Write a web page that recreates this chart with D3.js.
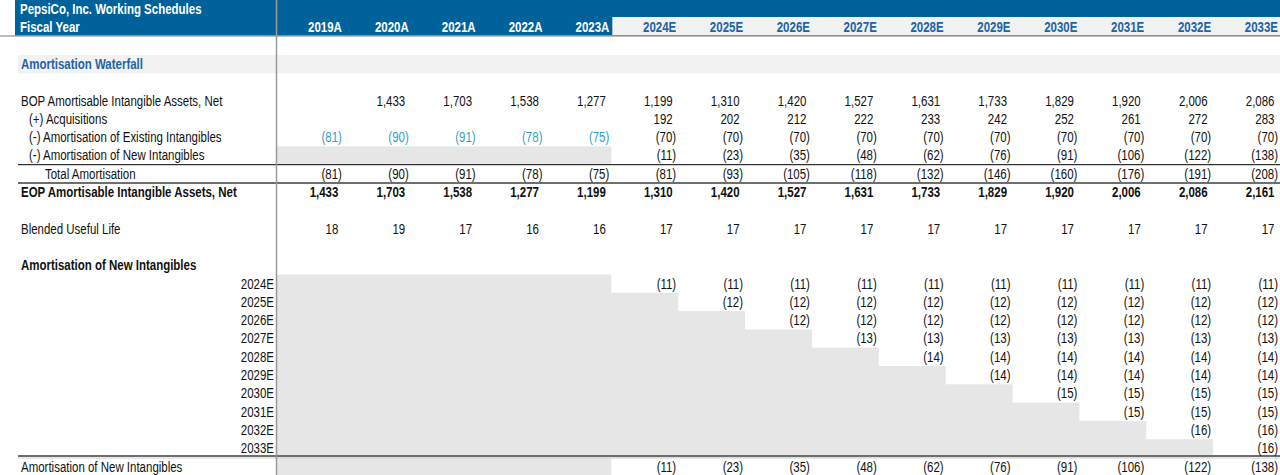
<!DOCTYPE html>
<html>
<head>
<meta charset="utf-8">
<script src="https://cdn.jsdelivr.net/npm/d3@7"></script>
<style>
  html, body { margin: 0; padding: 0; background: #fff; }
  svg { display: block; }
  text { font-family: 'Liberation Sans', Arial, sans-serif; font-size: 14px; fill: #111; }
  .bold { font-weight: bold; }
  .hdr { fill: #fff; font-weight: bold; }
  .hdr-e { fill: #1b64a8; font-weight: bold; }
  .section { fill: #1f64a6; font-weight: bold; }
  .hist { fill: #2f9fc6; }
</style>
</head>
<body>
<svg id="chart"></svg>
<script>
// Amortisation waterfall schedule, drawn as a spreadsheet-style table.
const WIDTH = 1280;
const HEIGHT = 475;
const ROW_H = 18.3;
const LABEL_X = 21;
const GRID_X = 277; // first numeric column starts here
const SX = 0.82; // horizontal squeeze so Liberation Sans reads like Arial Narrow

const YEARS_A = ['2019A', '2020A', '2021A', '2022A', '2023A'];
const YEARS_E = ['2024E', '2025E', '2026E', '2027E', '2028E', '2029E', '2030E', '2031E', '2032E', '2033E'];
const YEARS = [...YEARS_A, ...YEARS_E];

const BOP = [null, 1433, 1703, 1538, 1277, 1199, 1310, 1420, 1527, 1631, 1733, 1829, 1920, 2006, 2086];
const ACQUISITIONS = [null, null, null, null, null, 192, 202, 212, 222, 233, 242, 252, 261, 272, 283];
const AMORT_EXISTING = [-81, -90, -91, -78, -75, -70, -70, -70, -70, -70, -70, -70, -70, -70, -70];
const AMORT_NEW = [null, null, null, null, null, -11, -23, -35, -48, -62, -76, -91, -106, -122, -138];
const TOTAL_AMORT = [-81, -90, -91, -78, -75, -81, -93, -105, -118, -132, -146, -160, -176, -191, -208];
const EOP = [1433, 1703, 1538, 1277, 1199, 1310, 1420, 1527, 1631, 1733, 1829, 1920, 2006, 2086, 2161];
const USEFUL_LIFE = [18, 19, 17, 16, 16, 17, 17, 17, 17, 17, 17, 17, 17, 17, 17];

// Amortisation of each acquisition vintage, from its own year onward.
const VINTAGES = YEARS_E;
const NEW_AMORT_BY_VINTAGE = [
  [-11, -11, -11, -11, -11, -11, -11, -11, -11, -11],
  [-12, -12, -12, -12, -12, -12, -12, -12, -12],
  [-12, -12, -12, -12, -12, -12, -12, -12],
  [-13, -13, -13, -13, -13, -13, -13],
  [-14, -14, -14, -14, -14, -14],
  [-14, -14, -14, -14, -14],
  [-15, -15, -15, -15],
  [-15, -15, -15],
  [-16, -16],
  [-16],
];

const svg = d3.select('#chart').attr('width', WIDTH).attr('height', HEIGHT);

const x = d3.scaleBand().domain(YEARS).range([GRID_X, WIDTH]);
const y = d3.scaleBand().domain(d3.range(26)).range([0, 26 * ROW_H]);
const cy = (r) => y(r) + ROW_H / 2;
const colEnd = (yr) => x(yr) + x.bandwidth();
const nx = (px) => px / SX; // screen x -> x inside the squeezed text group

const fmtNum = d3.format(',');
const fmt = (v) => (v < 0 ? `(${fmtNum(-v)})` : fmtNum(v));
// negatives end at the cell edge, positives leave room for the ")"
const valX = (yr, v) => colEnd(yr) - (v < 0 ? 2 : 5.5);

// ---- fills ----
svg.append('rect').attr('width', WIDTH).attr('height', HEIGHT).attr('fill', '#fff');

// header band
svg.append('rect').attr('x', 15).attr('y', 0).attr('width', WIDTH - 15).attr('height', 36).attr('fill', '#00629b');
svg.append('rect')
  .attr('x', x(YEARS_E[0]) + 1).attr('y', 17)
  .attr('width', WIDTH - x(YEARS_E[0]) - 1).attr('height', 18)
  .attr('fill', '#f2f2f2');

// section band
svg.append('rect').attr('x', 18).attr('y', y(3)).attr('width', WIDTH - 18).attr('height', ROW_H).attr('fill', '#f2f2f2');

// greyed-out historical cells
const histW = colEnd(YEARS_A[YEARS_A.length - 1]) - GRID_X;
svg.append('rect').attr('x', GRID_X).attr('y', y(8)).attr('width', histW).attr('height', ROW_H).attr('fill', '#e6e6e6');
svg.append('rect').attr('x', GRID_X).attr('y', y(25)).attr('width', histW).attr('height', ROW_H).attr('fill', '#e6e6e6');

// staircase: cells before each vintage's first year
svg.append('g')
  .selectAll('rect')
  .data(VINTAGES)
  .join('rect')
  .attr('x', GRID_X)
  .attr('y', (d, i) => y(15 + i))
  .attr('width', (d) => x(d) - GRID_X)
  .attr('height', ROW_H + 0.5)
  .attr('fill', '#e6e6e6');

// ---- rules ----
svg.append('line').attr('x1', 0).attr('x2', WIDTH).attr('y1', 36).attr('y2', 36).attr('stroke', '#a6a6a6').attr('stroke-width', 1.5);
svg.append('line').attr('x1', 18).attr('x2', WIDTH).attr('y1', y(9)).attr('y2', y(9)).attr('stroke', '#000').attr('stroke-width', 1);
svg.append('line').attr('x1', 18).attr('x2', WIDTH).attr('y1', y(10)).attr('y2', y(10)).attr('stroke', '#6e6e6e').attr('stroke-width', 2);
svg.append('line').attr('x1', 18).attr('x2', WIDTH).attr('y1', y(25) - 1.5).attr('y2', y(25) - 1.5).attr('stroke', '#6e6e6e').attr('stroke-width', 2);
svg.append('line').attr('x1', 18).attr('x2', WIDTH).attr('y1', y(25) + 0.5).attr('y2', y(25) + 0.5).attr('stroke', '#d0d0d0').attr('stroke-width', 1);
svg.append('line').attr('x1', GRID_X - 0.5).attr('x2', GRID_X - 0.5).attr('y1', 0).attr('y2', HEIGHT).attr('stroke', '#9a9a9a').attr('stroke-width', 1.5);

// ---- text ----
const txt = svg.append('g').attr('transform', `scale(${SX},1)`);
function label(row, s, dx, cls) {
  txt.append('text')
    .attr('class', cls || null)
    .attr('x', nx(dx))
    .attr('y', cy(row))
    .attr('dominant-baseline', 'central')
    .text(s);
}

label(0, 'PepsiCo, Inc. Working Schedules', 20, 'hdr');
label(1, 'Fiscal Year', 20, 'hdr');
label(3, 'Amortisation Waterfall', LABEL_X, 'section');
label(5, 'BOP Amortisable Intangible Assets, Net', LABEL_X);
label(6, '(+) Acquisitions', 29);
label(7, '(-) Amortisation of Existing Intangibles', 29);
label(8, '(-) Amortisation of New Intangibles', 29);
label(9, 'Total Amortisation', 45);
label(10, 'EOP Amortisable Intangible Assets, Net', LABEL_X, 'bold');
label(12, 'Blended Useful Life', LABEL_X);
label(14, 'Amortisation of New Intangibles', LABEL_X, 'bold');
label(25, 'Amortisation of New Intangibles', LABEL_X);

// year headers
txt.append('g')
  .selectAll('text')
  .data(YEARS)
  .join('text')
  .attr('class', (d) => (d.endsWith('E') ? 'hdr-e' : 'hdr'))
  .attr('text-anchor', 'end')
  .attr('x', (d) => nx(colEnd(d) - 2))
  .attr('y', cy(1))
  .attr('dominant-baseline', 'central')
  .text((d) => d);

// vintage row labels
txt.append('g')
  .selectAll('text')
  .data(VINTAGES)
  .join('text')
  .attr('text-anchor', 'end')
  .attr('x', nx(GRID_X - 3))
  .attr('y', (d, i) => cy(15 + i))
  .attr('dominant-baseline', 'central')
  .text((d) => d);

function valueRow(row, values, cls, histCls) {
  const cells = values
    .map((v, i) => ({ v, yr: YEARS[i], hist: i < YEARS_A.length }))
    .filter((d) => d.v !== null);
  txt.append('g')
    .selectAll('text')
    .data(cells)
    .join('text')
    .attr('class', (d) => [cls, d.hist ? histCls : null].filter(Boolean).join(' ') || null)
    .attr('text-anchor', 'end')
    .attr('x', (d) => nx(valX(d.yr, d.v)))
    .attr('y', cy(row))
    .attr('dominant-baseline', 'central')
    .text((d) => fmt(d.v));
}

valueRow(5, BOP);
valueRow(6, ACQUISITIONS);
valueRow(7, AMORT_EXISTING, null, 'hist');
valueRow(8, AMORT_NEW);
valueRow(9, TOTAL_AMORT);
valueRow(10, EOP, 'bold');
valueRow(12, USEFUL_LIFE);
valueRow(25, AMORT_NEW);

// vintage matrix
NEW_AMORT_BY_VINTAGE.forEach((vals, i) => {
  const start = YEARS.indexOf(VINTAGES[i]);
  const padded = YEARS.map((yr, j) => (j >= start ? vals[j - start] : null));
  valueRow(15 + i, padded);
});
</script>
</body>
</html>
